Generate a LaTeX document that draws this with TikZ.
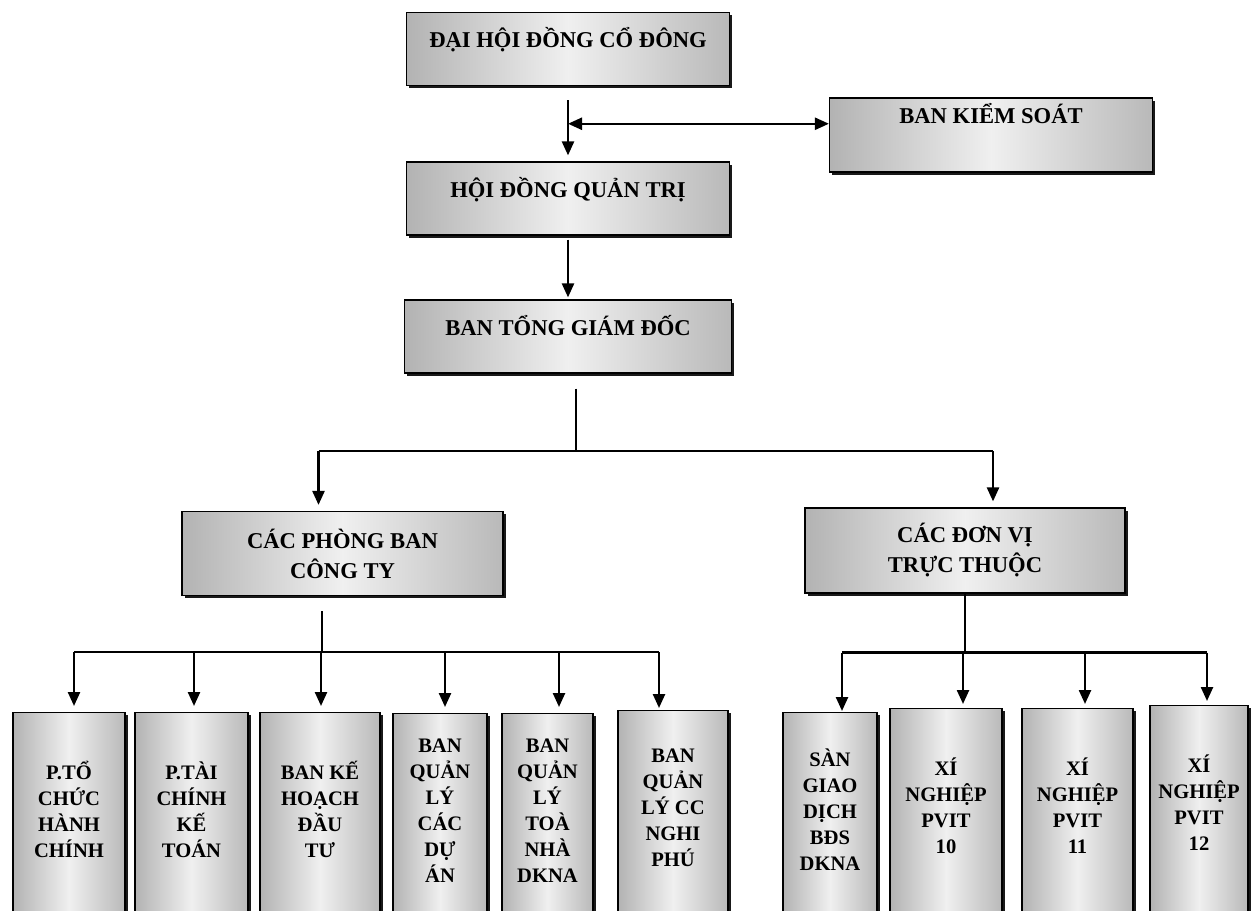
\documentclass[tikz,border=0pt]{standalone}
\usepackage{fontspec}
\setmainfont{Liberation Serif}
\usetikzlibrary{positioning, arrows.meta, shadows, calc}

\tikzset{
    box/.style={draw, line width=0.6pt, left color=gray!60, right color=gray!55, middle color=gray!12,
        drop shadow={shadow xshift=1.4pt, shadow yshift=-1.4pt, fill=black, opacity=0.9},
        align=center, inner sep=2pt, font=\bfseries\fontsize{11.3}{15}\selectfont},
    headbox/.style={box, minimum width=161.5pt, minimum height=36.5pt, text height=9pt, text depth=10.5pt},
    groupbox/.style={box, minimum width=160.5pt, minimum height=42pt},
    unitbox/.style={box, anchor=north, minimum height=104pt, text depth=7pt, font=\bfseries\fontsize{10.3}{13}\selectfont},
    wire/.style={line width=1.2pt, line join=round},
}

\begin{document}
\begin{tikzpicture}[x=0.5pt, y=-0.5pt, >={Triangle[length=7pt, width=6pt]}, on grid]
    \useasboundingbox (0,0) rectangle (1252,910);

    % top of the chart
    \node[headbox] (dh) at (568,49) {ĐẠI HỘI ĐỒNG CỔ ĐÔNG};
    \node[headbox] (hdqt) [below=74.75pt of dh] {HỘI ĐỒNG QUẢN TRỊ};
    \node[headbox, minimum width=163.5pt] (btgd) [below=69pt of hdqt] {BAN TỔNG GIÁM ĐỐC};
    \node[headbox, minimum height=37pt, text depth=21pt] (bks) at (991,135) {BAN KIỂM SOÁT};

    % two groups
    \node[groupbox] (cpb) at (342.5,553.5) {CÁC PHÒNG BAN\\CÔNG TY};
    \node[groupbox, minimum width=160pt, minimum height=42.5pt] (cdv) at (965,550.5) {CÁC ĐƠN VỊ\\TRỰC THUỘC};

    % departments
    \node[unitbox, minimum width=56pt] (tchc) at (69,712) {P.TỔ\\CHỨC\\HÀNH\\CHÍNH};
    \node[unitbox, minimum width=56.5pt] (tckt) at (191.5,712) {P.TÀI\\CHÍNH\\KẾ\\TOÁN};
    \node[unitbox, minimum width=60pt] (khdt) at (320,712) {BAN KẾ\\HOẠCH\\ĐẦU\\TƯ};
    \node[unitbox, minimum width=47pt] (qlda) at (440,713) {BAN\\QUẢN\\LÝ\\CÁC\\DỰ\\ÁN};
    \node[unitbox, minimum width=45.5pt] (qltn) at (547.5,713) {BAN\\QUẢN\\LÝ\\TOÀ\\NHÀ\\DKNA};
    \node[unitbox, minimum width=55pt] (qlcc) at (673,710) {BAN\\QUẢN\\LÝ CC\\NGHI\\PHÚ};

    % member units
    \node[unitbox, minimum width=47pt] (sgd) at (830,712) {SÀN\\GIAO\\DỊCH\\BĐS\\DKNA};
    \node[unitbox, minimum width=56pt] (xn10) at (946,708) {XÍ\\NGHIỆP\\PVIT\\10};
    \node[unitbox, minimum width=55.5pt] (xn11) at (1077.5,708) {XÍ\\NGHIỆP\\PVIT\\11};
    \node[unitbox, minimum width=49pt] (xn12) at (1199,705) {XÍ\\NGHIỆP\\PVIT\\12};

    % connectors at the top
    \coordinate (ks) at ($(dh.south)!0.5!(hdqt.north)$);
    \draw[wire, ->, shorten <=7pt, shorten >=3pt] (dh) -- (hdqt);
    \draw[wire, <->] (ks) -- (ks -| bks.west);
    \draw[wire, ->, shorten <=2pt, shorten >=1pt] (hdqt) -- (btgd);

    % first split
    \coordinate (tb) at (576,451);
    \draw[wire, shorten <=7.5pt] (tb |- btgd.south) -- (tb);
    \draw[wire] ([xshift=-12pt]cpb.north |- tb) -- ([xshift=14pt]cdv.north |- tb);
    \draw[wire, ->, shorten >=3pt] ([xshift=-12pt]cpb.north |- tb) -- ([xshift=-12pt]cpb.north);
    \draw[wire, ->, shorten >=3pt] ([xshift=14pt]cdv.north |- tb) -- ([xshift=14pt]cdv.north);

    % departments bus
    \coordinate (lb) at (322,652);
    \draw[wire, shorten <=7.5pt] (lb |- cpb.south) -- (lb);
    \draw[wire] ([xshift=2.5pt]tchc.north |- lb) -- ([xshift=-7pt]qlcc.north |- lb);
    \draw[wire, ->, shorten >=3pt] ([xshift=2.5pt]tchc.north |- lb) -- ([xshift=2.5pt]tchc.north);
    \draw[wire, ->, shorten >=3pt] ([xshift=1.25pt]tckt.north |- lb) -- ([xshift=1.25pt]tckt.north);
    \draw[wire, ->, shorten >=3pt] ([xshift=0.5pt]khdt.north |- lb) -- ([xshift=0.5pt]khdt.north);
    \draw[wire, ->, shorten >=3pt] ([xshift=2.5pt]qlda.north |- lb) -- ([xshift=2.5pt]qlda.north);
    \draw[wire, ->, shorten >=3pt] ([xshift=5.75pt]qltn.north |- lb) -- ([xshift=5.75pt]qltn.north);
    \draw[wire, ->, shorten >=1pt] ([xshift=-7pt]qlcc.north |- lb) -- ([xshift=-7pt]qlcc.north);

    % member units bus
    \coordinate (rb) at ([yshift=-29.5pt]cdv.south);
    \draw[wire] (cdv) -- (rb);
    \draw[wire] ([xshift=6pt]sgd.north |- rb) -- ([xshift=4pt]xn12.north |- rb);
    \draw[wire, ->, shorten >=0.5pt] ([xshift=6pt]sgd.north |- rb) -- ([xshift=6pt]sgd.north);
    \draw[wire, ->, shorten >=2pt] ([xshift=8.5pt]xn10.north |- rb) -- ([xshift=8.5pt]xn10.north);
    \draw[wire, ->, shorten >=2pt] ([xshift=3.75pt]xn11.north |- rb) -- ([xshift=3.75pt]xn11.north);
    \draw[wire, ->, shorten >=2pt] ([xshift=4pt]xn12.north |- rb) -- ([xshift=4pt]xn12.north);
\end{tikzpicture}
\end{document}
